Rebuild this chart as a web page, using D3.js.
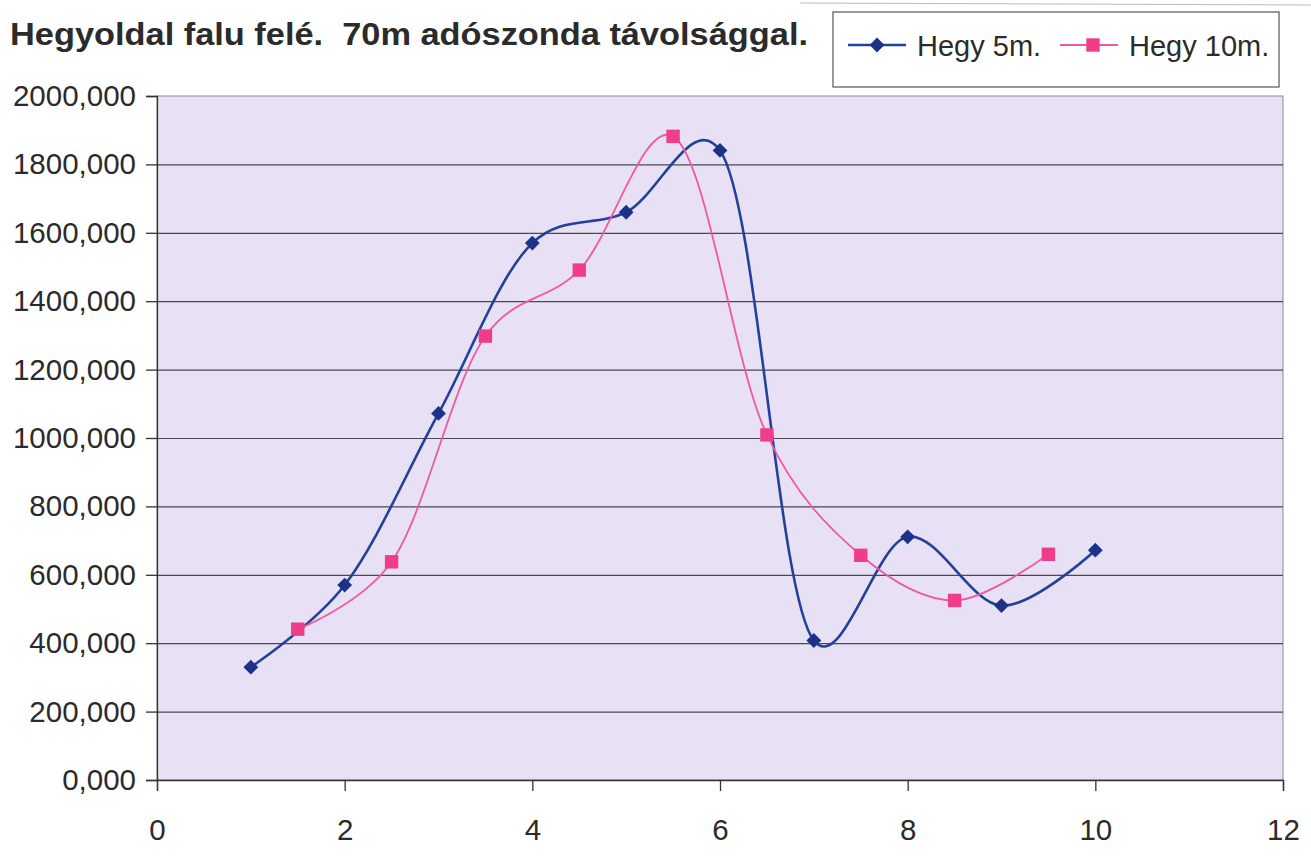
<!DOCTYPE html>
<html>
<head>
<meta charset="utf-8">
<script src="https://cdn.jsdelivr.net/npm/d3@7"></script>
<style>
  body { margin: 0; background: #fff; }
  text { font-family: "Liberation Sans", Arial, sans-serif; fill: #2b2b2b; white-space: pre; }
</style>
</head>
<body>
<script>
var width = 1311;
var height = 861;

var margin = { top: 96, right: 28, bottom: 81, left: 157 };

var titleText = 'Hegyoldal falu felé.  70m adószonda távolsággal.';
var seriesNames = ['Hegy 5m.', 'Hegy 10m.'];

// Hegy 5m.
var x5 = [1, 2, 3, 4, 5, 6, 7, 8, 9, 10];
var y5 = [330, 570, 1072, 1570, 1660, 1841, 408, 711, 510, 672];

// Hegy 10m.
var x10 = [1.5, 2.5, 3.5, 4.5, 5.5, 6.5, 7.5, 8.5, 9.5];
var y10 = [441, 638, 1298, 1491, 1882, 1009, 657, 525, 660];

var xTicks = [0, 2, 4, 6, 8, 10, 12];
var yTicks = [0, 200, 400, 600, 800, 1000, 1200, 1400, 1600, 1800, 2000];

var blue = '#23409a';
var blueMark = '#1c3288';
var pink = '#ee5a9f';
var pinkMark = '#ef3d8c';

var huLocale = d3.formatLocale({ decimal: ',', thousands: ' ', grouping: [3], currency: ['', ''] });
var fmt = huLocale.format('.3f');

var svg = d3.select('body')
    .append('svg')
    .attr('width', width)
    .attr('height', height);

var plotW = width - margin.left - margin.right;
var plotH = height - margin.top - margin.bottom;

var x = d3.scaleLinear().domain([0, 12]).range([0, plotW]);
var y = d3.scaleLinear().domain([0, 2000]).range([plotH, 0]);

// scan edge line at top right
svg.append('line')
    .attr('x1', 800).attr('x2', width)
    .attr('y1', 3).attr('y2', 5)
    .attr('stroke', '#bbb')
    .attr('stroke-width', 1);

var g = svg.append('g')
    .attr('transform', 'translate(' + margin.left + ',' + margin.top + ')');

g.append('rect')
    .attr('width', plotW)
    .attr('height', plotH)
    .attr('fill', '#e8e1f5')
    .attr('stroke', '#8a8a8a')
    .attr('stroke-width', 1);

// gridlines
g.append('g')
    .call(d3.axisLeft(y).tickValues(yTicks.slice(1, -1)).tickSize(-plotW).tickFormat(''))
    .call(function(s) {
        s.select('.domain').remove();
        s.selectAll('line').attr('stroke', '#4a4a4a').attr('stroke-width', 1.2);
    });

// y axis
g.append('g')
    .call(d3.axisLeft(y).tickValues(yTicks).tickSize(11).tickPadding(10).tickFormat(fmt))
    .call(function(s) {
        s.select('.domain').attr('stroke', '#333').attr('stroke-width', 1.3);
        s.selectAll('line').attr('stroke', '#333').attr('stroke-width', 1.3);
        s.selectAll('text')
            .style('font-family', '"Liberation Sans", Arial, sans-serif')
            .style('font-size', '29.5px')
            .attr('fill', '#333');
    });

// x axis
g.append('g')
    .attr('transform', 'translate(0,' + plotH + ')')
    .call(d3.axisBottom(x).tickValues(xTicks).tickSize(11).tickPadding(28))
    .call(function(s) {
        s.select('.domain').attr('stroke', '#333').attr('stroke-width', 1.3);
        s.selectAll('line').attr('stroke', '#333').attr('stroke-width', 1.3);
        s.selectAll('text')
            .style('font-family', '"Liberation Sans", Arial, sans-serif')
            .style('font-size', '29.5px')
            .attr('fill', '#333');
    });

// Excel-like smoothing, a little overshoot on the steep parts
var line = d3.line()
    .x(function(d) { return x(d[0]); })
    .y(function(d) { return y(d[1]); })
    .curve(d3.curveCatmullRom.alpha(0.2));

var data5 = d3.zip(x5, y5);
var data10 = d3.zip(x10, y10);

g.append('path')
    .datum(data5)
    .attr('fill', 'none')
    .attr('stroke', blue)
    .attr('stroke-width', 2.6)
    .attr('d', line);

g.append('path')
    .datum(data10)
    .attr('fill', 'none')
    .attr('stroke', pink)
    .attr('stroke-width', 1.8)
    .attr('d', line);

var diamond = d3.symbol().type(d3.symbolSquare).size(110);
var square = d3.symbol().type(d3.symbolSquare).size(180);

g.selectAll('.m5')
    .data(data5)
    .enter()
    .append('path')
    .attr('class', 'm5')
    .attr('transform', function(d) { return 'translate(' + x(d[0]) + ',' + y(d[1]) + ') rotate(45)'; })
    .attr('d', diamond)
    .attr('fill', blueMark);

g.selectAll('.m10')
    .data(data10)
    .enter()
    .append('path')
    .attr('class', 'm10')
    .attr('transform', function(d) { return 'translate(' + x(d[0]) + ',' + y(d[1]) + ')'; })
    .attr('d', square)
    .attr('fill', pinkMark);

// title
svg.append('text')
    .attr('x', 10)
    .attr('y', 45)
    .attr('textLength', 798)
    .attr('lengthAdjust', 'spacingAndGlyphs')
    .style('font-size', '31px')
    .style('font-weight', 'bold')
    .attr('fill', '#222')
    .text(titleText);

// legend
var legend = svg.append('g');
legend.append('rect')
    .attr('x', 833).attr('y', 12)
    .attr('width', 446).attr('height', 75)
    .attr('fill', '#fff')
    .attr('stroke', '#555')
    .attr('stroke-width', 1.2);

var legendItems = [
    { name: seriesNames[0], x: 848, color: blue, mark: blueMark, type: 'diamond', w: 2.6 },
    { name: seriesNames[1], x: 1060, color: pink, mark: pinkMark, type: 'square', w: 1.8 }
];

legendItems.forEach(function(it) {
    legend.append('line')
        .attr('x1', it.x).attr('x2', it.x + 58)
        .attr('y1', 45).attr('y2', 45)
        .attr('stroke', it.color)
        .attr('stroke-width', it.w);
    if (it.type === 'diamond') {
        legend.append('path')
            .attr('transform', 'translate(' + (it.x + 29) + ',45) rotate(45)')
            .attr('d', diamond)
            .attr('fill', it.mark);
    } else {
        legend.append('path')
            .attr('transform', 'translate(' + (it.x + 33) + ',45)')
            .attr('d', square)
            .attr('fill', it.mark);
    }
    legend.append('text')
        .attr('x', it.x + 69)
        .attr('y', 56)
        .style('font-size', '29px')
        .attr('fill', '#2b2b2b')
        .text(it.name);
});
</script>
</body>
</html>
